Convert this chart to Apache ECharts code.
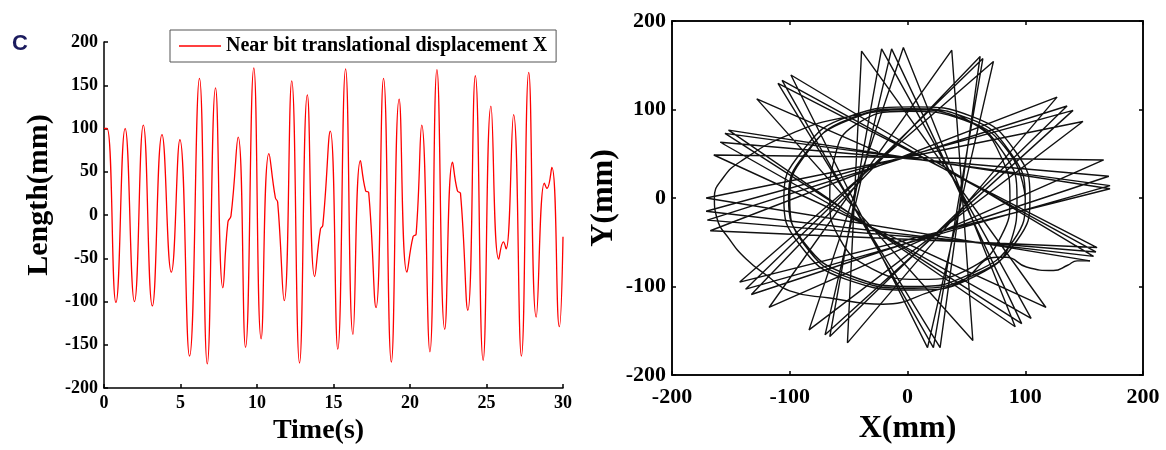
<!DOCTYPE html>
<html>
<head>
<meta charset="utf-8">
<script src="https://cdn.jsdelivr.net/npm/echarts@6/dist/echarts.min.js"></script>
<style>
html,body{margin:0;padding:0;background:#fff;}
#main{width:1166px;height:450px;}
</style>
</head>
<body>
<div id="main"></div>
<script>
// left panel: near bit displacement X vs time (read peak by peak)
var timeS = [0,0.2,0.78,1.38,1.99,2.57,3.16,3.79,4.40,4.96,5.59,6.24,6.75,7.29,7.77,8.1,8.3,8.77,9.25,9.79,
  10.27,10.78,11.2,11.35,11.78,12.27,12.78,13.29,13.77,14.15,14.3,14.79,15.28,15.79,16.27,16.76,17.1,17.3,17.78,
  18.27,18.78,19.29,19.80,20.2,20.4,20.77,21.30,21.76,22.27,22.78,23.1,23.3,23.78,24.27,24.78,25.29,25.80,26.11,
  26.28,26.77,27.28,27.76,28.25,28.78,28.95,29.27,29.76,30];
var lengthMm = [100,100,-101,100,-100,104,-105,93,-66,87,-163,158,-172,147,-84,-8,-1,90,-153,170,
  -143,71,20,15,-99,155,-171,139,-71,-16,-12,97,-155,169,-138,63,28,26,-107,
  158,-170,134,-66,-25,-22,104,-158,168,-132,61,28,25,-110,161,-168,126,-51,-31,
  -39,116,-163,165,-118,37,31,55,-129,-25];

// right panel: early whirl loops (X, Y in mm)
var orbitX = [100,87,50,0,-50,-87,-101,-88,-50,5,55,90,100,
  87,52,2,-50,-86,-100,-88,-50,5,58,93,104,
  92,55,5,-50,-90,-105,-92,-52,5,58,88,93,
  82,48,0,-45,-62,-66,-58,-30,10,55,80,87,
  80,55,10,-50,-100,-141,-157,-164,-162,-151,-137,-120,-100,-66,-21,22,45,76,84,101,124,136,144,155];
var orbitY = [0,50,88,100,88,50,0,-50,-87,-100,-85,-48,0,
  52,90,101,89,50,0,-52,-90,-102,-86,-48,0,
  52,92,103,92,52,0,-52,-92,-104,-88,-48,0,
  50,88,98,82,45,0,-45,-80,-92,-78,-42,0,
  45,85,100,92,72,42,22,0,-22,-47,-69,-87,-105,-113,-120,-105,-95,-67,-67,-78,-82,-76,-71,-71];

// star tips, one per pass (4 passes), grouped by direction
var tipsRR = [[155,-71],[158,-66],[160,-61],[161,-56]];
var tipsL  = [[-171,0],[-171,-15],[-170,-25],[-167.5,-37]];
var tipsUR = [[149,86.5],[140.6,99],[135.5,104],[127,114]];
var tipsBL = [[-83.6,-149],[-70,-154.6],[-66,-156.5],[-51,-163.7]];
var tipsT  = [[-3.5,170],[-13.5,168.5],[-22,168.5],[-39,166]];
var tipsLR = [[91.5,-145.5],[97,-142],[105,-136],[117.6,-123.7]];
var tipsML = [[-152,76.7],[-155,73],[-159,63],[-164.5,48.6]];
var tipsR  = [[172,10.4],[172,14],[171,24.6],[166.6,43]];
var tipsLL = [[-142.5,-95],[-137.5,-103],[-132.6,-109],[-117.6,-123.7]];
var tipsTR = [[73,154.3],[64,157.6],[61.7,160],[37.6,167]];
var tipsB  = [[17,-169],[22,-169],[27.7,-169],[55.5,-161]];
var tipsUL = [[-99,139],[-106.5,133],[-110,129.5],[-128,112]];
var starEnd = [-25,52];

var tipOrder = [tipsRR,tipsL,tipsUR,tipsBL,tipsT,tipsLR,tipsML,tipsR,tipsLL,tipsTR,tipsB,tipsUL];

var lineData = timeS.map(function(t,i){ return [t, lengthMm[i]]; });
var orbitData = orbitX.map(function(x,i){ return [x, orbitY[i]]; });
var starData = [];
for (var p = 0; p < 4; p++) {
  tipOrder.forEach(function(c){ starData.push(c[p]); });
}
starData.push(starEnd);

var serif = '"Liberation Serif", "Times New Roman", serif';
var tickLbl = {fontFamily: serif, fontWeight: 'bold', color: '#000'};
var axLine = {show: true, onZero: false, lineStyle: {color: '#000', width: 1.5}};
var tick = {inside: true, length: 4, lineStyle: {color: '#000', width: 1.5}};

var chart = echarts.init(document.getElementById('main'));
var option = {
  animation: false,
  backgroundColor: '#fff',
  graphic: [{
    type: 'text', left: 12, top: 33,
    style: {text: 'C', font: 'bold 22px "Liberation Sans", Arial, sans-serif', fill: '#1b1b5e'}
  }],
  legend: {
    data: ['Near bit translational displacement X'],
    left: 170, top: 30,
    padding: [6, 9, 6, 9],
    borderColor: '#555', borderWidth: 1,
    icon: 'rect', itemWidth: 42, itemHeight: 1.5, itemGap: 8,
    textStyle: {fontFamily: serif, fontWeight: 'bold', fontSize: 20, color: '#000'}
  },
  grid: [
    {left: 104, top: 42, width: 459, height: 355},
    {left: 672, top: 21, width: 471, height: 365, show: true, borderColor: '#000', borderWidth: 1.5}
  ],
  xAxis: [
    {gridIndex: 0, type: 'value', min: 0, max: 30, interval: 5,
      name: 'Time(s)', nameLocation: 'middle', nameGap: 28,
      nameTextStyle: {fontFamily: serif, fontWeight: 'bold', fontSize: 28, color: '#000', padding: [0, 30, 0, 0]},
      axisLine: axLine, axisTick: tick,
      axisLabel: Object.assign({fontSize: 18, margin: 6}, tickLbl), splitLine: {show: false}},
    {gridIndex: 1, type: 'value', min: -200, max: 200, interval: 100,
      name: 'X(mm)', nameLocation: 'middle', nameGap: 38,
      nameTextStyle: {fontFamily: serif, fontWeight: 'bold', fontSize: 32, color: '#000'},
      axisLine: axLine, axisTick: tick,
      axisLabel: Object.assign({fontSize: 22, margin: 11}, tickLbl), splitLine: {show: false}},
    {gridIndex: 1, type: 'value', min: -200, max: 200, interval: 100, position: 'top',
      axisLine: axLine, axisTick: tick,
      axisLabel: {show: false}, splitLine: {show: false}}
  ],
  yAxis: [
    {gridIndex: 0, type: 'value', min: -200, max: 200, interval: 50,
      name: 'Length(mm)', nameLocation: 'middle', nameGap: 50,
      nameTextStyle: {fontFamily: serif, fontWeight: 'bold', fontSize: 30, color: '#000', padding: [0, 0, 0, 40]},
      axisLine: axLine, axisTick: tick,
      axisLabel: Object.assign({fontSize: 18, margin: 6}, tickLbl), splitLine: {show: false}},
    {gridIndex: 1, type: 'value', min: -200, max: 200, interval: 100,
      name: 'Y(mm)', nameLocation: 'middle', nameGap: 52,
      nameTextStyle: {fontFamily: serif, fontWeight: 'bold', fontSize: 32, color: '#000'},
      axisLine: axLine, axisTick: tick,
      axisLabel: Object.assign({fontSize: 22, margin: 6}, tickLbl), splitLine: {show: false}},
    {gridIndex: 1, type: 'value', min: -200, max: 200, interval: 100, position: 'right',
      axisLine: axLine, axisTick: tick,
      axisLabel: {show: false}, splitLine: {show: false}}
  ],
  series: [
    {name: 'Near bit translational displacement X', type: 'line', xAxisIndex: 0, yAxisIndex: 0,
      data: lineData, smooth: 0.5, showSymbol: false, lineStyle: {color: '#ff0000', width: 1.3},
      itemStyle: {color: '#ff0000'}},
    {name: 'orbit', type: 'line', xAxisIndex: 1, yAxisIndex: 1, data: orbitData,
      smooth: 0.5, showSymbol: false, lineStyle: {color: '#111', width: 1.4}},
    {name: 'star', type: 'line', xAxisIndex: 1, yAxisIndex: 1, data: starData,
      smooth: false, showSymbol: false, lineStyle: {color: '#111', width: 1.4}}
  ]
};
chart.setOption(option);
</script>
</body>
</html>
